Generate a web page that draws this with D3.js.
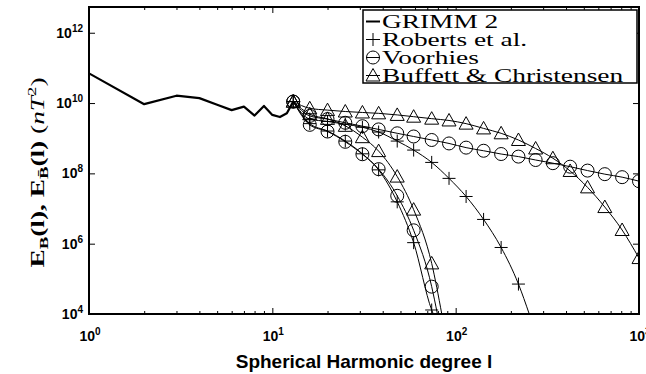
<!DOCTYPE html>
<html>
<head>
<meta charset="utf-8">
<script src="https://cdnjs.cloudflare.com/ajax/libs/d3/7.8.5/d3.min.js"></script>
<style>
  body { margin: 0; background: #fff; }
  svg { display: block; }
  .ticklab { font: bold 14px "Liberation Sans", Arial, sans-serif; fill: #000; }
  .legend text { font: 19px "Liberation Serif", "Times New Roman", serif; fill: #000; }
</style>
</head>
<body>
<div id="chart"></div>
<script>
// degrees where the model markers sit
var markerDegrees = [13, 16, 20, 25, 31, 38, 48, 59, 74, 92, 114, 142, 177, 220, 273, 339, 421, 524, 651, 809, 1000]

// GRIMM 2 core field spectrum
var grimmL = [1, 2, 3, 4, 5, 6, 7, 8, 9, 10, 11, 12, 13]
var grimmE = [7.0e10, 9.3e9, 1.62e10, 1.38e10, 8.9e9, 6.3e9, 7.9e9, 4.4e9, 8.3e9, 4.6e9, 4.0e9, 5.1e9, 1.1e10]

// Roberts et al.
var robertsL = [13, 16, 20, 25, 31, 38, 48, 59, 74, 92, 114, 142, 177, 220, 252]
var robertsE = [1.1e10, 3.5e9, 3.0e9, 2.5e9, 2.05e9, 1.5e9, 8.3e8, 4.6e8, 2.05e8, 7.2e7, 2.2e7, 4.9e6, 7.8e5, 7.1e4, 1e4]
var robertsBarL = [13, 16, 20, 25, 31, 38, 48, 59, 74, 75.5]
var robertsBarE = [1.1e10, 2.6e9, 1.6e9, 8.3e8, 3.6e8, 1.26e8, 1.55e7, 1.07e6, 1.3e4, 1e4]

// Voorhies
var voorhiesL = markerDegrees
var voorhiesE = [1.1e10, 4.3e9, 3.5e9, 2.75e9, 2.2e9, 1.78e9, 1.38e9, 1.12e9, 8.9e8, 7.1e8, 5.4e8, 4.4e8, 3.55e8, 3.0e8, 2.4e8, 1.95e8, 1.55e8, 1.2e8, 9.5e7, 7.8e7, 6.0e7]
var voorhiesBarL = [13, 16, 20, 25, 31, 38, 48, 59, 74, 79.5]
var voorhiesBarE = [1.1e10, 2.4e9, 1.55e9, 7.9e8, 3.5e8, 1.32e8, 2.3e7, 2.4e6, 6.0e4, 1e4]

// Buffett & Christensen
var buffettL = markerDegrees
var buffettE = [1.1e10, 7.1e9, 6.3e9, 5.75e9, 5.4e9, 5.1e9, 4.6e9, 4.1e9, 3.6e9, 3.2e9, 2.6e9, 1.9e9, 1.38e9, 8.9e8, 5.1e8, 2.7e8, 1.17e8, 4.0e7, 1.1e7, 2.45e6, 3.9e5]
var buffettBarL = [13, 16, 20, 25, 31, 38, 48, 59, 74, 84]
var buffettBarE = [1.1e10, 4.8e9, 3.55e9, 2.25e9, 1.07e9, 4.3e8, 8.1e7, 9.3e6, 2.75e5, 1e4]

var legendLabels = ['GRIMM 2', 'Roberts et al.', 'Voorhies', 'Buffett & Christensen']
var legendMarkers = ['none', 'plus', 'circle', 'triangle']
var xTickExps = [0, 1, 2, 3]
var yTickExps = [4, 6, 8, 10, 12]

var W = 646, H = 374
var margin = {left: 89, right: 7, top: 7, bottom: 60}
var wide = 1.44 // the TeX roman runs wider than Liberation Serif

var svg = d3.select('#chart').append('svg').attr('width', W).attr('height', H)

var x = d3.scaleLog().domain([1, 1000]).range([margin.left, W - margin.right])
var y = d3.scaleLog().domain([1e4, 5.4e12]).range([H - margin.bottom, margin.top])
var x0 = x.range()[0], x1 = x.range()[1], y0 = y.range()[0], y1 = y.range()[1]

function zip(ls, es){ return ls.map(function(l, i){ return {l: l, e: es[i]} }) }

var series = [
  {pts: zip(grimmL, grimmE), marker: 'none', width: 2.2, curve: d3.curveLinear},
  {pts: zip(robertsL, robertsE), marker: 'plus', width: 1},
  {pts: zip(robertsBarL, robertsBarE), marker: 'plus', width: 1},
  {pts: zip(voorhiesL, voorhiesE), marker: 'circle', width: 1},
  {pts: zip(voorhiesBarL, voorhiesBarE), marker: 'circle', width: 1},
  {pts: zip(buffettL, buffettE), marker: 'triangle', width: 1},
  {pts: zip(buffettBarL, buffettBarE), marker: 'triangle', width: 1}
]

var symbols = {
  plus: 'M-6.5,0H6.5M0,-6.5V6.5',
  circle: 'M6.5,0A6.5,6.5 0 1,1 -6.5,0A6.5,6.5 0 1,1 6.5,0Z',
  triangle: 'M0,-7L7,5.5L-7,5.5Z',
  none: ''
}

svg.append('clipPath').attr('id', 'plotclip')
  .append('rect').attr('x', x0).attr('y', y1).attr('width', x1 - x0).attr('height', y0 - y1)

var plot = svg.append('g').attr('clip-path', 'url(#plotclip)')

series.forEach(function(s){
  var line = d3.line()
    .x(function(d){ return x(d.l) })
    .y(function(d){ return y(d.e) })
    .curve(s.curve || d3.curveMonotoneX)

  plot.append('path')
    .attr('d', line(s.pts))
    .attr('fill', 'none')
    .attr('stroke', '#000')
    .attr('stroke-width', s.width)
    .attr('stroke-linejoin', 'round')

  if (s.marker == 'none') return
  plot.selectAll(null)
    .data(s.pts.filter(function(d){ return markerDegrees.indexOf(d.l) >= 0 }))
    .enter().append('path')
    .attr('transform', function(d){ return 'translate(' + x(d.l) + ',' + y(d.e) + ')' })
    .attr('d', symbols[s.marker])
    .attr('fill', 'none')
    .attr('stroke', '#000')
    .attr('stroke-width', 1)
})

// axes: ticks pointing inward on all four sides
var xMajor = xTickExps.map(function(e){ return Math.pow(10, e) })
var xMinor = []
xTickExps.slice(0, -1).forEach(function(e){
  for (var k = 2; k < 10; k++) xMinor.push(k * Math.pow(10, e))
})
var yMajor = yTickExps.map(function(e){ return Math.pow(10, e) })

function inward(axis, vals, size){
  return axis.tickValues(vals).tickSizeInner(-size).tickSizeOuter(0).tickFormat('')
}

var axes = [
  [d3.axisBottom(x), xMajor, 6, 'translate(0,' + y0 + ')'],
  [d3.axisBottom(x), xMinor, 3, 'translate(0,' + y0 + ')'],
  [d3.axisTop(x), xMajor, 6, 'translate(0,' + y1 + ')'],
  [d3.axisTop(x), xMinor, 3, 'translate(0,' + y1 + ')'],
  [d3.axisLeft(y), yMajor, 6, 'translate(' + x0 + ',0)'],
  [d3.axisRight(y), yMajor, 6, 'translate(' + x1 + ',0)']
]
axes.forEach(function(a){
  var g = svg.append('g').attr('transform', a[3]).call(inward(a[0], a[1], a[2]))
  g.select('.domain').remove()
  g.selectAll('.tick line').attr('stroke', '#000').attr('stroke-width', 1)
})

svg.append('rect')
  .attr('x', x0).attr('y', y1).attr('width', x1 - x0).attr('height', y0 - y1)
  .attr('fill', 'none').attr('stroke', '#000').attr('stroke-width', 2)

// tick labels 10^n
function powLabel(sel, exp){
  sel.append('tspan').text('10')
  sel.append('tspan').attr('dy', -6).style('font-size', '10px').text(exp)
}
xTickExps.forEach(function(e){
  svg.append('text').attr('class', 'ticklab')
    .attr('x', x(Math.pow(10, e)) + 1).attr('y', y0 + 27)
    .attr('text-anchor', 'middle')
    .call(powLabel, e)
})
yTickExps.forEach(function(e){
  svg.append('text').attr('class', 'ticklab')
    .attr('x', x0 - 6).attr('y', y(Math.pow(10, e)) + 5)
    .attr('text-anchor', 'end')
    .call(powLabel, e)
})

// axis titles
svg.append('text')
  .attr('x', (x0 + x1) / 2).attr('y', H - 6)
  .attr('text-anchor', 'middle')
  .style('font', 'bold 19px "Liberation Sans", Arial, sans-serif')
  .text('Spherical Harmonic degree l')

var yt = svg.append('text')
  .attr('transform', 'translate(44,' + ((y0 + y1) / 2 + 12) + ') rotate(-90)')
  .attr('text-anchor', 'middle')
  .style('font', 'bold 19px "Liberation Serif", "Times New Roman", serif')
yt.append('tspan').text('E')
yt.append('tspan').attr('dy', 4).style('font-size', '13px').text('B')
yt.append('tspan').attr('dy', -4).text('(l), E')
yt.append('tspan').attr('dy', 4).style('font-size', '13px').text('B\u0304')
yt.append('tspan').attr('dy', -4).text('(l) ')
yt.append('tspan').style('font-weight', 'normal').text('(')
yt.append('tspan').style('font-weight', 'normal').style('font-style', 'italic').text('nT')
yt.append('tspan').attr('dy', -8).style('font-weight', 'normal').style('font-size', '13px').text('2')
yt.append('tspan').attr('dy', 8).style('font-weight', 'normal').text(')')
yt.attr('textLength', yt.node().getComputedTextLength() * wide).attr('lengthAdjust', 'spacingAndGlyphs')

// legend
var lg = svg.append('g').attr('class', 'legend')
var lgX = 363, lgY = 10, lgW = 274, rowH = 18
lg.append('rect')
  .attr('x', lgX).attr('y', lgY).attr('width', lgW).attr('height', rowH * 4 + 1)
  .attr('fill', '#fff').attr('stroke', '#000').attr('stroke-width', 1.5)

legendLabels.forEach(function(name, i){
  var base = lgY + 17.5 + i * rowH
  var cy = base - 6
  lg.append('line')
    .attr('x1', lgX + 3).attr('x2', lgX + 17).attr('y1', cy).attr('y2', cy)
    .attr('stroke', '#000').attr('stroke-width', i == 0 ? 2 : 1)
  if (legendMarkers[i] != 'none') {
    lg.append('path')
      .attr('transform', 'translate(' + (lgX + 10) + ',' + cy + ')')
      .attr('d', symbols[legendMarkers[i]])
      .attr('fill', 'none').attr('stroke', '#000')
  }
  var t = lg.append('text').attr('x', lgX + 19).attr('y', base).text(name)
  t.attr('textLength', t.node().getComputedTextLength() * wide).attr('lengthAdjust', 'spacingAndGlyphs')
})
</script>
</body>
</html>
